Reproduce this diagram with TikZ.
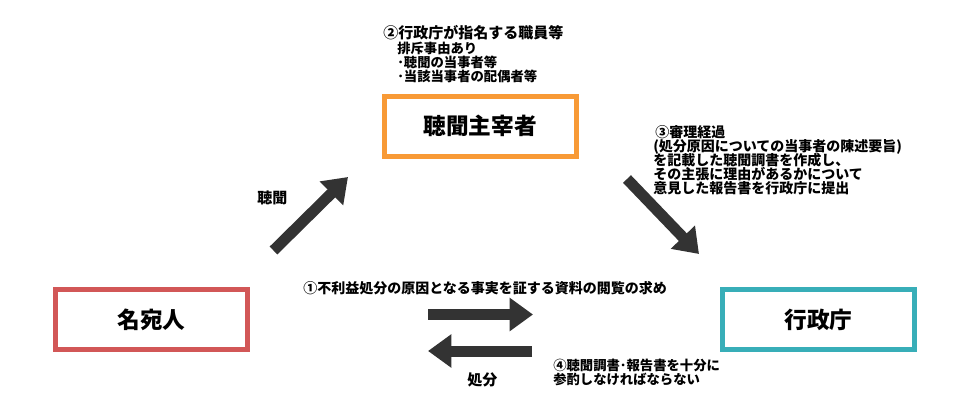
\documentclass[tikz,border=0pt]{standalone}
\usepackage{fontspec}
\setmainfont{Noto Sans CJK JP}
\usetikzlibrary{arrows.meta}
\definecolor{boxred}{HTML}{D25757}
\definecolor{boxteal}{HTML}{38AEB8}
\definecolor{boxorange}{HTML}{F89A36}
\definecolor{arrowgray}{HTML}{333333}
\newcommand{\fsz}[1]{\fontsize{#1}{#1}\selectfont}
\newcommand{\cnum}[1]{{\addfontfeatures{RawFeature=+fwid}#1}}
\begin{document}
\begin{tikzpicture}[x=0.75pt,y=-0.75pt,
  partybox/.style={draw, line width=3.75pt, minimum width=144pt, minimum height=45pt, inner sep=0pt, font=\bfseries\fsz{17pt}},
  lbl/.style={anchor=base west, inner sep=0pt, font=\bfseries\fsz{10.5pt}},
  lblsm/.style={anchor=base west, inner sep=0pt, font=\bfseries\fsz{10pt}},
  lblbig/.style={anchor=base west, inner sep=0pt, font=\bfseries\fsz{11.25pt}},
  bigarrow/.style={draw=arrowgray, line width=8.25pt, -{Triangle[length=17.5pt,width=24pt]}}
]
\useasboundingbox (0,0) rectangle (964,400);

% boxes
\node[partybox, draw=boxred] (meate) at (151.5,319.5) {名宛人};
\node[partybox, draw=boxteal] (gyosei) at (818.5,319.5) {行政庁};
\node[partybox, draw=boxorange] (shusai) at (480,126) {聴聞主宰者};

% arrows
\coordinate (a1s) at (273.5,250.5); \coordinate (a1e) at (348,177);
\coordinate (a2s) at (627,179);     \coordinate (a2e) at (699,254);
\coordinate (a3s) at (428,314.5);   \coordinate (a3e) at (533,314.5);
\coordinate (a4s) at (532,351);     \coordinate (a4e) at (428,351);
\draw[bigarrow] (a1s) -- (a1e);
\draw[bigarrow] (a2s) -- (a2e);
\draw[bigarrow] (a3s) -- (a3e);
\draw[bigarrow] (a4s) -- (a4e);

% text (2)
\node[lblbig] (t2a) at (383,38.5) {\cnum{②}行政庁が指名する職員等};
\node[lblsm] (t2b) at (397,53) {排斥事由あり};
\node[lblsm] (t2c) at (397,67) {･聴聞の当事者等};
\node[lblsm] (t2d) at (397,81) {･当該当事者の配偶者等};

% text (3)
\node[lbl] (t3a) at (655,137) {\cnum{③}審理経過};
\node[lbl] (t3b) at (653,151) {(処分原因についての当事者の陳述要旨)};
\node[lbl] (t3c) at (653,165) {を記載した聴聞調書を作成し、};
\node[lbl] (t3d) at (653,179) {その主張に理由があるかについて};
\node[lbl] (t3e) at (653,193) {意見した報告書を行政庁に提出};

% other labels
\node[lblbig] (tchomon) at (257,203.5) {聴聞};
\node[lbl] (t1) at (303,293) {\cnum{①}不利益処分の原因となる事実を証する資料の閲覧の求め};
\node[lblbig] (tshobun) at (467,385) {処分};
\node[lblsm] (t4a) at (553,370) {\cnum{④}聴聞調書･報告書を十分に};
\node[lblsm] (t4b) at (553,384) {参酌しなければならない};
\end{tikzpicture}
\end{document}
